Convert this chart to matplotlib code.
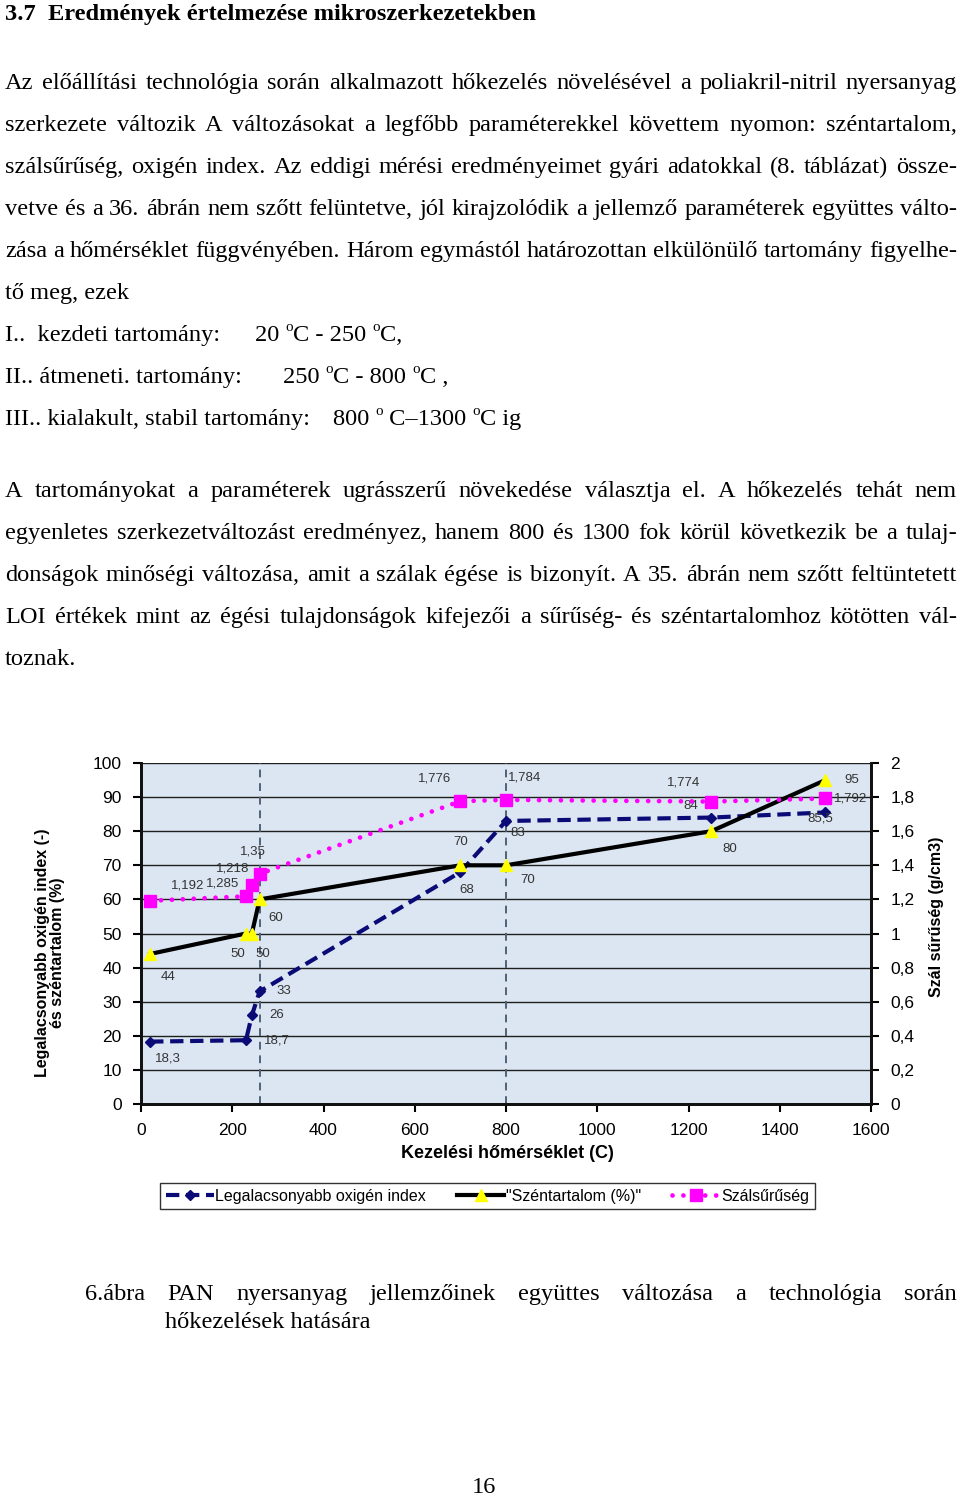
import matplotlib
matplotlib.use("Agg")
import matplotlib.pyplot as plt
from matplotlib.ticker import FixedLocator, FixedFormatter

# ---------------- data ----------------
temps = [20, 230, 243, 260, 700, 800, 1250, 1500]
loi = [18.3, 18.7, 26, 33, 68, 83, 84, 85.5]
carbon = [44, 50, 50, 60, 70, 70, 80, 95]
density = [1.192, 1.218, 1.285, 1.35, 1.776, 1.784, 1.774, 1.792]
region_lines = [261, 800]

x_ticks = [0, 200, 400, 600, 800, 1000, 1200, 1400, 1600]
y_ticks = [0, 10, 20, 30, 40, 50, 60, 70, 80, 90, 100]
y2_ticks = [0, 0.2, 0.4, 0.6, 0.8, 1.0, 1.2, 1.4, 1.6, 1.8, 2.0]
y2_ticklabels = ["0", "0,2", "0,4", "0,6", "0,8", "1", "1,2", "1,4", "1,6", "1,8", "2"]

series_names = ["Legalacsonyabb oxigén index", '"Széntartalom (%)"', "Szálsűrűség"]

# label offsets in pixels (dx right, dy down)
loi_off = [(18, 17), (31, 0), (25, 0), (24, 0), (6, 18), (12, 12), (-21, -12), (-5, 6)]
carbon_off = [(18, 23), (-8, 20), (11, 20), (16, 19), (0, -23), (22, 15), (18, 18), (26, 0)]
dens_off = [(38, -15), (-13, -28), (-29, -1), (-7, -22), (-26, -23), (19, -22), (-28, -19), (25, 0)]

title = "3.7  Eredmények értelmezése mikroszerkezetekben"
para1 = [
    "Az előállítási technológia során alkalmazott hőkezelés növelésével a poliakril-nitril nyersanyag",
    "szerkezete változik  A változásokat a legfőbb paraméterekkel követtem nyomon: széntartalom,",
    "szálsűrűség, oxigén index. Az eddigi mérési eredményeimet gyári adatokkal (8. táblázat)  össze-",
    "vetve és a 36. ábrán  nem szőtt felüntetve, jól kirajzolódik a jellemző paraméterek együttes válto-",
    "zása a hőmérséklet függvényében. Három egymástól határozottan elkülönülő tartomány figyelhe-",
]
para1_last = "tő meg, ezek"
para2 = [
    "A tartományokat a paraméterek ugrásszerű növekedése választja el. A hőkezelés tehát nem",
    "egyenletes szerkezetváltozást eredményez, hanem 800 és 1300 fok körül következik be a tulaj-",
    "donságok minőségi változása, amit a szálak égése is bizonyít. A 35. ábrán nem szőtt feltüntetett",
    "LOI értékek mint az égési tulajdonságok  kifejezői a sűrűség- és széntartalomhoz kötötten vál-",
]
para2_last = "toznak."
caption1 = "6.ábra PAN nyersanyag jellemzőinek együttes változása a technológia során"
caption2 = "hőkezelések hatására"

W, H = 960, 1499
fig = plt.figure(figsize=(W / 100, H / 100), dpi=100)
page = fig.add_axes([0, 0, 1, 1], zorder=0)
page.set_xlim(0, W)
page.set_ylim(H, 0)
page.axis("off")
renderer = fig.canvas.get_renderer()

SERIF = "Liberation Serif"
SANS = "Liberation Sans"


def text_w(s, size, weight="normal", family=SERIF):
    t = page.text(0, 0, s, fontsize=size, fontweight=weight, family=family)
    w = t.get_window_extent(renderer).width
    t.remove()
    return w


# choose body font size so that the tightest line fits the text width
ref = para1[3]
w10 = text_w(ref, 10)
FS = 10 * 950 / w10


def justify(line, x0, x1, y, size=FS):
    words = line.split()
    ws = [text_w(w, size) for w in words]
    gap = (x1 - x0 - sum(ws)) / (len(words) - 1)
    x = x0
    for w, wd in zip(words, ws):
        page.text(x, y, w, fontsize=size, family=SERIF, va="baseline", ha="left")
        x += wd + gap


def plain(line, x, y, size=FS, weight="normal"):
    page.text(x, y, line, fontsize=size, family=SERIF, va="baseline", ha="left",
              fontweight=weight)


def runs(parts, x, y, size=FS):
    sup_size = size * 0.62
    raise_px = size * 1.389 * 0.42
    for s, sup in parts:
        if sup:
            page.text(x, y - raise_px, s, fontsize=sup_size, family=SERIF, va="baseline")
            x += text_w(s, sup_size)
        else:
            page.text(x, y, s, fontsize=size, family=SERIF, va="baseline")
            x += text_w(s, size)


plain(title, 5, 20, weight="bold")
X0, X1 = 5, 957
ys1 = [89, 131, 173, 215, 257]
for line, y in zip(para1, ys1):
    justify(line, X0, X1, y)
plain(para1_last, X0, 299)

plain("I..  kezdeti tartomány:", X0, 341)
runs([("20 ", False), ("o", True), ("C - 250 ", False), ("o", True), ("C,", False)], 255, 341)
plain("II.. átmeneti. tartomány:", X0, 383)
runs([("250 ", False), ("o", True), ("C - 800 ", False), ("o", True), ("C ,", False)], 283, 383)
plain("III.. kialakult, stabil tartomány:", X0, 425)
runs([("800 ", False), ("o", True), (" C–1300 ", False), ("o", True), ("C ig", False)], 333, 425)

ys2 = [497, 539, 581, 623]
for line, y in zip(para2, ys2):
    justify(line, X0, X1, y)
plain(para2_last, X0, 665)

justify(caption1, 85, 957, 1300)
plain(caption2, 165, 1328)
page.text(484, 1493, "16", fontsize=FS, family=SERIF, va="baseline", ha="center")

# ---------------- chart ----------------
L, R, T, B = 141, 871, 763, 1104
ax = fig.add_axes([L / W, 1 - B / H, (R - L) / W, (B - T) / H], zorder=2)
ax.set_facecolor("#DCE6F2")
ax.set_xlim(0, 1600)
ax.set_ylim(0, 100)
ax2 = ax.twinx()
ax2.set_ylim(0, 2)

for y in y_ticks:
    ax.axhline(y, color="#1f1f1f", lw=1.0, zorder=1)
for xv in region_lines:
    ax.axvline(xv, color="#4F6277", lw=1.4, dashes=(4, 3), zorder=2)

navy = "#0B0B78"
l1, = ax.plot(temps, loi, color=navy, lw=3.0, dashes=(3.2, 1.6), marker="D",
              ms=5.5, mfc=navy, mec=navy, zorder=4)
l2, = ax.plot(temps, carbon, color="black", lw=3.0, marker="^", ms=8,
              mfc="#FFFF00", mec="#FFFF00", zorder=5)
l3, = ax2.plot(temps, density, color="#FF00FF", lw=3.4, linestyle=(0, (0.01, 2.3)),
               dash_capstyle="round", marker="s", ms=8.5, mfc="#FF00FF",
               mec="#FF00FF", zorder=4)

lab_kw = dict(textcoords="offset points", fontsize=9.5, family=SANS, color="#333333",
              ha="center", va="center", zorder=6)


def fmt(v):
    return f"{v:g}".replace(".", ",")


for xv, v, (dx, dy) in zip(temps, loi, loi_off):
    ax.annotate(fmt(v), (xv, v), xytext=(dx * 0.72, -dy * 0.72), **lab_kw)
for xv, v, (dx, dy) in zip(temps, carbon, carbon_off):
    ax.annotate(fmt(v), (xv, v), xytext=(dx * 0.72, -dy * 0.72), **lab_kw)
for xv, v, (dx, dy) in zip(temps, density, dens_off):
    ax2.annotate(fmt(v), (xv, v), xytext=(dx * 0.72, -dy * 0.72), **lab_kw)

ax.xaxis.set_major_locator(FixedLocator(x_ticks))
ax.set_xticklabels([str(t) for t in x_ticks])
ax.yaxis.set_major_locator(FixedLocator(y_ticks))
ax.set_yticklabels([str(t) for t in y_ticks])
ax2.yaxis.set_major_locator(FixedLocator(y2_ticks))
ax2.yaxis.set_major_formatter(FixedFormatter(y2_ticklabels))

tick_kw = dict(direction="out", length=6, width=1.5, labelsize=12.5, colors="black")
ax.tick_params(axis="both", pad=8, **tick_kw)
ax2.tick_params(axis="y", pad=8, **tick_kw)
for a in (ax, ax2):
    for lbl in a.get_xticklabels() + a.get_yticklabels():
        lbl.set_family(SANS)
for a in (ax, ax2):
    a.spines["top"].set_visible(False)
    for s in ("left", "bottom", "right"):
        a.spines[s].set_linewidth(2)
        a.spines[s].set_color("#111111")

page.text(50, 953, "Legalacsonyabb oxigén index (-)\nés széntartalom (%)", rotation=90,
          ha="center", va="center", multialignment="center", fontsize=11.5,
          fontweight="bold", family=SANS, linespacing=1.0)
page.text(937, 917, "Szál sűrűség (g/cm3)", rotation=90, ha="center", va="center",
          fontsize=11.5, fontweight="bold", family=SANS)
page.text(507, 1154, "Kezelési hőmérséklet (C)", ha="center", va="center",
          fontsize=13, fontweight="bold", family=SANS)

leg = fig.legend(handles=[l1, l2, l3], labels=series_names, loc="center",
                 bbox_to_anchor=(160 / W, 1 - 1211 / H, 655 / W, 30 / H), mode="expand",
                 ncol=3, frameon=True, fancybox=False, framealpha=1, edgecolor="#333333",
                 handlelength=3.0, handletextpad=0.1, columnspacing=0.3, borderpad=0.35,
                 borderaxespad=0, prop={"family": SANS, "size": 11.5})
leg.get_frame().set_linewidth(1.0)

fig.savefig("out.png", dpi=100, facecolor="white")
